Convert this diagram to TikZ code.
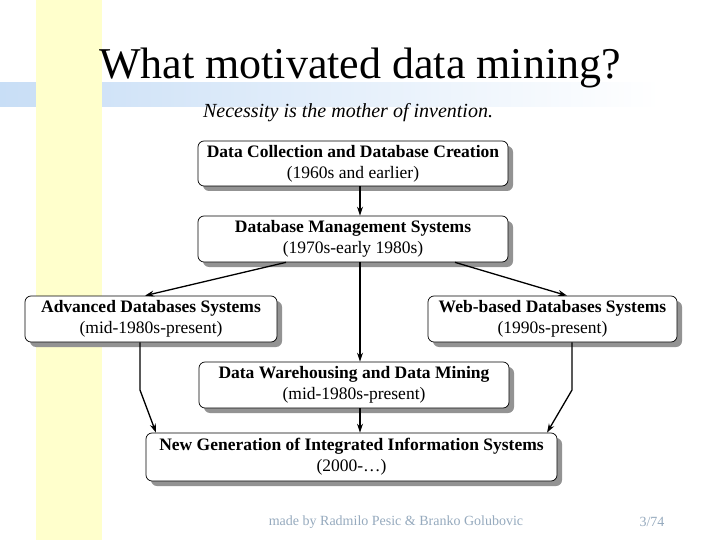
\documentclass[tikz,border=0pt]{standalone}
\usepackage{fontspec}
\setmainfont{Liberation Serif}
\usetikzlibrary{arrows.meta,shadows}
\definecolor{bandblue}{RGB}{200,222,246}
\definecolor{stripe}{RGB}{255,255,204}
\definecolor{footc}{RGB}{150,170,190}
\begin{document}
\begin{tikzpicture}[x=1pt,y=-1pt,
  box/.style={draw=black,fill=white,rounded corners=6pt,line width=0.7pt,align=center,font=\bfseries\fontsize{17.5}{21}\selectfont,
    drop shadow={shadow xshift=5pt,shadow yshift=-5pt,fill=gray!85,opacity=1}},
  arr/.style={-{Stealth[length=9pt,width=6pt]},line width=1.3pt}]
\useasboundingbox (0,0) rectangle (720,540);
\fill[white] (0,0) rectangle (720,540);
\shade[left color=bandblue,right color=white] (0,83) rectangle (660,107);
\fill[stripe] (36,0) rectangle (102,540);
\node (title) at (360,68) {\fontsize{44}{50}\selectfont What motivated data mining?};
\node (sub) at (348,113) {\fontsize{20}{22}\selectfont\itshape Necessity is the mother of invention.};
\node[box,minimum width=310pt,minimum height=45pt] (b1) at (353,163.5) {Data Collection and Database Creation\\{\mdseries (1960s and earlier)}};
\node[box,minimum width=310pt,minimum height=46pt] (b2) at (353,239) {Database Management Systems\\{\mdseries (1970s-early 1980s)}};
\node[box,minimum width=252pt,minimum height=46pt] (b3) at (151,319) {Advanced Databases Systems\\{\mdseries (mid-1980s-present)}};
\node[box,minimum width=249pt,minimum height=46pt] (b4) at (552.5,319) {Web-based Databases Systems\\{\mdseries (1990s-present)}};
\node[box,minimum width=310pt,minimum height=46pt] (b5) at (354,385) {Data Warehousing and Data Mining\\{\mdseries (mid-1980s-present)}};
\node[box,minimum width=411pt,minimum height=48pt] (b6) at (351.5,457) {New Generation of Integrated Information Systems\\{\mdseries (2000-\ldots)}};
\draw[arr] (b1.south -| 360,0) -- (b2.north -| 360,0);
\draw[arr] (b2.south -| 286,0) -- (b3.north -| 145,0);
\draw[arr] (b2.south -| 455,0) -- (b4.north -| 567,0);
\draw[arr] (b2.south -| 360,0) -- (b5.north -| 360,0);
\draw[arr] (b5.south -| 360,0) -- (b6.north -| 360,0);
\coordinate (l1) at (140,390);
\coordinate (r1) at (572,390);
\draw[arr] (b3.south -| 140,0) -- (l1) -- (b6.north -| 156,0);
\draw[arr] (b4.south -| 572,0) -- (r1) -- (b6.north -| 547,0);
\node[text=footc] (foot) at (396,522) {\fontsize{14}{16}\selectfont made by Radmilo Pesic \& Branko Golubovic};
\node[text=footc] (pg) at (652,522) {\fontsize{14}{16}\selectfont 3/74};
\end{tikzpicture}
\end{document}
